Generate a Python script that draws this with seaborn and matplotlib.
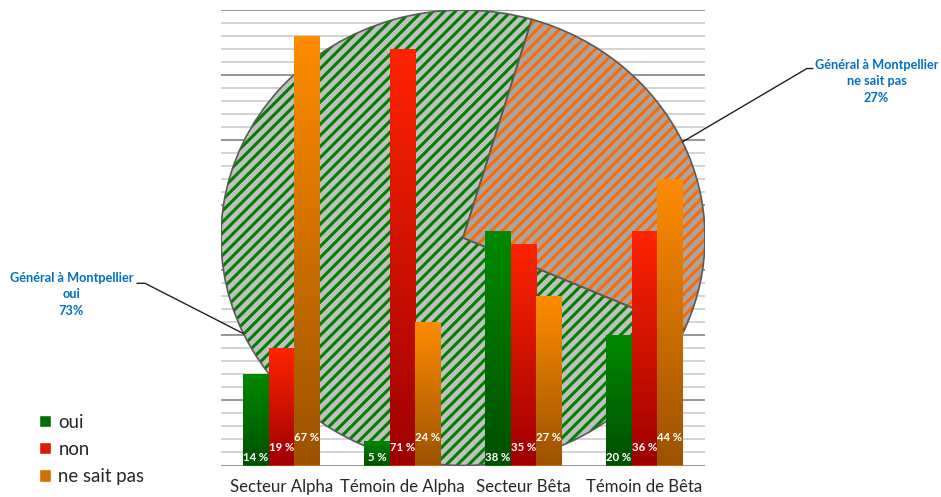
import numpy as np
import pandas as pd
import matplotlib.pyplot as plt
import seaborn as sns
from matplotlib.patches import Wedge, Patch
from matplotlib.colors import LinearSegmentedColormap

# Data
secteurs = ["Secteur Alpha", "Témoin de Alpha", "Secteur Bêta", "Témoin de Bêta"]
reponses = ["oui", "non", "ne sait pas"]

# bar heights (%) as drawn
oui = [14, 3.8, 36, 20]
non = [18, 64, 34, 36]
nsp = [66, 22, 26, 44]

# percentages printed on the bars
oui_lbl = [14, 5, 38, 20]
non_lbl = [19, 71, 35, 36]
nsp_lbl = [67, 24, 27, 44]

# background pie: "Général à Montpellier"
pie_labels = ["oui", "ne sait pas"]
pie_values = [73, 27]

# Colors
top_colors = ["#008A00", "#FF2400", "#FF8C00"]
bottom_colors = ["#004F00", "#9E0000", "#9C5200"]
legend_colors = ["#007000", "#E01A00", "#D07000"]
pie_bg = ["#C0C0C0", "#A6A6A6"]
pie_hatch = ["#008000", "#FF6A00"]

sns.set_style("white")
plt.rcParams["font.family"] = ["Lato", "DejaVu Sans"]
plt.rcParams["hatch.linewidth"] = 2.2

fig = plt.figure(figsize=(9.41, 4.97), dpi=100)
pos = [221 / 941, 31.5 / 497, 484 / 941, 455.5 / 497]
ax_grid = fig.add_axes(pos, zorder=0)
ax_pie = fig.add_axes(pos, zorder=1)
ax = fig.add_axes(pos, zorder=2)

# Gridlines (behind the pie)
ax_grid.set_xlim(0, 1)
ax_grid.set_ylim(0, 70)
ax_grid.set_yticks(np.arange(0, 71, 10))
ax_grid.set_yticks(np.arange(0, 71, 2), minor=True)
ax_grid.grid(which="minor", axis="y", color="#C8C8C8", lw=1.1)
ax_grid.grid(which="major", axis="y", color="#8E8E8E", lw=1.3)
ax_grid.tick_params(which="both", length=0, labelleft=False, labelbottom=False)
for s in ax_grid.spines.values():
    s.set_visible(False)

# Pie, stretched to fill the plot area
wedges, _ = ax_pie.pie(pie_values, startangle=-23.7, counterclock=False, radius=1,
                       colors=pie_bg, wedgeprops=dict(linewidth=0))
for w, hc in zip(wedges, pie_hatch):
    ax_pie.add_patch(Wedge(w.center, w.r, w.theta1, w.theta2, facecolor="none",
                           edgecolor=hc, hatch="///", linewidth=0))
    ax_pie.add_patch(Wedge(w.center, w.r, w.theta1, w.theta2, facecolor="none",
                           edgecolor="#5A5A5A", linewidth=1.2))
ax_pie.set_aspect("auto")
ax_pie.set_xlim(-1, 1)
ax_pie.set_ylim(-1, 1)
ax_pie.axis("off")

# Pie labels with leader lines
text_pos = [(-1.618, -0.248), (1.709, 0.688)]
line_start = [(-1.347, -0.20), (1.446, 0.743)]
line_knee = [(-1.314, -0.20), (1.421, 0.743)]
for w, lab, val, tp, ls, lk in zip(wedges, pie_labels, pie_values, text_pos, line_start, line_knee):
    ang = np.deg2rad((w.theta1 + w.theta2) / 2)
    ex, ey = np.cos(ang), np.sin(ang)
    ax_pie.plot([ls[0], lk[0], ex], [ls[1], lk[1], ey], color="#202020", lw=1, clip_on=False)
    ax_pie.text(tp[0], tp[1], f"Général à Montpellier\n{lab}\n{val}%", ha="center", va="center",
                color="#0070C0", fontweight="bold", fontsize=9.2, linespacing=1.45, clip_on=False)

# Bars
df = pd.DataFrame({
    "secteur": secteurs * 3,
    "reponse": np.repeat(reponses, len(secteurs)),
    "valeur": oui + non + nsp,
})
sns.barplot(data=df, x="secteur", y="valeur", hue="reponse", order=secteurs, hue_order=reponses,
            palette=legend_colors, width=0.63, saturation=1, errorbar=None, legend=False,
            linewidth=0, ax=ax)
ax.patch.set_visible(False)

grad = np.linspace(0, 1, 256).reshape(-1, 1)
labels = [oui_lbl, non_lbl, nsp_lbl]
offsets = [8, 18, 28]  # px above the baseline
for i, cont in enumerate(ax.containers):
    cmap = LinearSegmentedColormap.from_list(f"g{i}", [bottom_colors[i], top_colors[i]])
    for bar, lab in zip(cont, labels[i]):
        x0, w, h = bar.get_x(), bar.get_width(), bar.get_height()
        im = ax.imshow(grad, extent=[x0, x0 + w, 0, h], origin="lower", aspect="auto",
                       cmap=cmap, zorder=3)
        im.set_clip_path(bar)
        ax.annotate(f"{lab} %", (x0 + w / 2, 0), xytext=(0, offsets[i] * 0.72),
                    textcoords="offset points", ha="center", va="center", color="white",
                    fontweight="bold", fontsize=8.2, zorder=5)

ax.set_xlim(-0.5, 3.5)
ax.set_ylim(0, 70)
ax.set_yticks([])
ax.set_xlabel("")
ax.set_ylabel("")
ax.tick_params(axis="x", length=0, pad=10, labelsize=12.1)
for s in ax.spines.values():
    s.set_visible(False)

# Legend
handles = [Patch(facecolor=c) for c in legend_colors]
fig.legend(handles, reponses, loc="upper left", bbox_to_anchor=(0.0414, 0.168), frameon=False,
           fontsize=13.4, handlelength=0.65, handleheight=0.65, handletextpad=0.4,
           labelspacing=0.55, borderpad=0, borderaxespad=0)

fig.savefig("out.png", dpi=100)
